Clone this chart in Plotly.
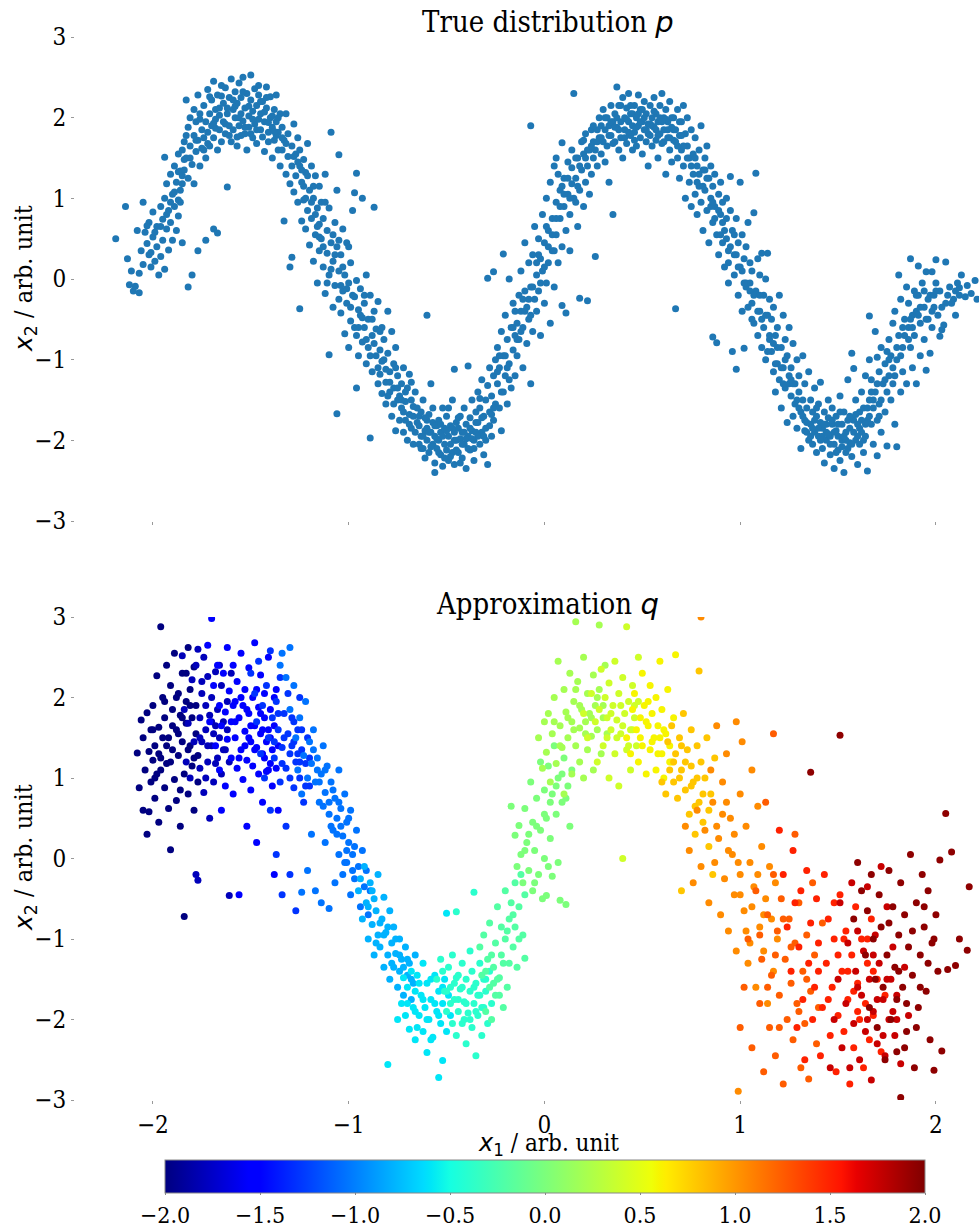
import plotly.graph_objects as go

# Samples from the true density p: (x1, x2) pairs, stored in hundredths
P_SAMPLES = [
    (-219, 50), (-214, 90), (-213, 25), (-212, -7), (-211, 10), (-210, -15), (-209, -9), (-208, 60), (-207, -17),
    (-207, 7), (-206, 35), (-205, 95), (-205, 18),
    (-204, 58), (-203, 44), (-202, 70), (-202, 30), (-201, 15), (-200, 52), (-200, 83), (-199, 22), (-198, 65),
    (-198, 40), (-197, 5), (-196, 90), (-196, 28), (-195, 74), (-195, 48), (-194, 151), (-194, 12),
    (-194, 100), (-193, 62), (-193, 118), (-192, 85), (-192, 36), (-191, 130), (-191, 70), (-190, 105), (-190, 48),
    (-189, 140), (-189, 90), (-188, 120), (-188, 60), (-187, 155), (-187, 78), (-186, 110), (-186, 134), (-186, 95),
    (-185, 160), (-185, 45), (-185, 118),
    (-184, 170), (-184, 135), (-183, 222), (-183, 150), (-182, 188), (-182, -10), (-182, 125), (-181, 165), (-181, 200),
    (-180, 142), (-180, 5), (-179, 178), (-179, 210), (-179, 118), (-178, 158), (-178, 195), (-177, 35), (-177, 172),
    (-177, 228), (-176, 140), (-176, 205), (-175, 185), (-175, 162),
    (-174, 215), (-174, 175), (-173, 48), (-173, 195), (-173, 150), (-172, 235), (-172, 182), (-171, 205), (-171, 165),
    (-170, 222), (-170, 190), (-169, 62), (-169, 245), (-169, 175), (-168, 210), (-168, 198), (-167, 57), (-167, 160),
    (-167, 228), (-166, 185), (-166, 212), (-165, 240), (-165, 170),
    (-164, 195), (-164, 218), (-163, 180), (-163, 237), (-162, 114), (-162, 205), (-161, 190), (-161, 225), (-160, 170),
    (-160, 248), (-159, 210), (-159, 185), (-158, 232), (-158, 200), (-157, 165), (-157, 218), (-156, 190), (-156, 243),
    (-155, 205), (-155, 178), (-155, 225),
    (-154, 196), (-154, 250), (-153, 212), (-153, 180), (-152, 230), (-152, 160), (-151, 202), (-151, 188), (-150, 222),
    (-150, 253), (-149, 175), (-149, 208), (-148, 192), (-148, 236), (-147, 215), (-147, 168), (-146, 198), (-146, 228),
    (-145, 185), (-145, 205),
    (-144, 176), (-144, 220), (-143, 195), (-143, 158), (-142, 212), (-142, 238), (-141, 182), (-141, 170), (-140, 200),
    (-140, 226), (-139, 150), (-139, 188), (-138, 210), (-138, 172), (-137, 195), (-137, 228), (-136, 160), (-136, 182),
    (-135, 205), (-135, 140),
    (-134, 188), (-134, 160), (-133, 72), (-133, 172), (-132, 130), (-132, 205), (-131, 152), (-131, 180), (-130, 15),
    (-130, 118), (-129, 27), (-129, 165), (-129, 140), (-128, 192), (-128, 108), (-127, 155), (-127, 128), (-126, 175),
    (-126, 95), (-125, 140), (-125, 160), (-125, -37),
    (-124, 120), (-124, 72), (-123, 148), (-123, 98), (-122, 62), (-122, 132), (-121, 168), (-121, 85), (-120, 110),
    (-120, 42), (-119, 140), (-119, 75), (-118, 22), (-118, 100), (-117, 128), (-117, 55), (-116, 88), (-116, -5),
    (-115, 115), (-115, 35), (-115, 68),
    (-114, 95), (-114, 50), (-113, 15), (-113, 75), (-112, 130), (-112, -18), (-111, 60), (-111, 32), (-110, -94),
    (-110, 88), (-110, 5), (-109, 182), (-109, 45), (-108, -35), (-108, 22), (-107, 70), (-107, -8), (-106, -167),
    (-106, 110), (-106, 40), (-105, -25), (-105, 154), (-105, 10),
    (-104, 30), (-104, -42), (-103, 62), (-103, -15), (-102, 5), (-102, -68), (-101, 45), (-101, -30), (-100, -5),
    (-100, -85), (-99, 20), (-99, -52), (-98, 85), (-98, -20), (-97, -60), (-97, 107), (-96, -135), (-96, -2),
    (-96, 131), (-95, -38), (-95, -95),
    (-94, -45), (-94, -12), (-93, -78), (-93, 100), (-92, -30), (-92, -60), (-91, -105), (-91, 5), (-90, -50),
    (-90, -85), (-89, -197), (-89, -20), (-88, -70), (-88, -115), (-87, 89), (-87, -40), (-86, -95), (-86, -62),
    (-85, -130), (-85, -28),
    (-84, -88), (-84, -118), (-83, -60), (-83, -142), (-82, -100), (-82, -75), (-81, -128), (-81, -155), (-80, -92),
    (-80, -40), (-79, -115), (-79, -140), (-78, -170), (-78, -65), (-77, -105), (-77, -135), (-76, -188), (-76, -85),
    (-75, -150), (-75, -120),
    (-74, -145), (-74, -175), (-73, -130), (-73, -160), (-72, -110), (-72, -190), (-71, -152), (-71, -175), (-70, -135),
    (-70, -200), (-69, -168), (-69, -118), (-68, -185), (-68, -150), (-67, -170), (-67, -205), (-66, -140), (-66, -190),
    (-65, -160), (-65, -178),
    (-64, -182), (-64, -205), (-63, -165), (-63, -195), (-62, -210), (-62, -150), (-61, -188), (-61, -222), (-60, -45),
    (-60, -175), (-60, -200), (-59, -168), (-59, -215), (-58, -190), (-58, -130), (-57, -205), (-57, -178), (-56, -228),
    (-56, -195), (-55, -182), (-55, -210),
    (-54, -200), (-54, -175), (-53, -218), (-53, -190), (-52, -160), (-52, -232), (-51, -205), (-51, -185), (-50, -212),
    (-50, -170), (-49, -195), (-49, -225), (-48, -182), (-48, -205), (-47, -150), (-47, -215), (-46, -112), (-46, -190),
    (-46, -230), (-45, -200), (-45, -178), (-56, -240),
    (-44, -185), (-44, -215), (-43, -198), (-43, -170), (-42, -222), (-42, -190), (-41, -160), (-41, -205), (-40, -180),
    (-40, -235), (-39, -108), (-39, -195), (-38, -212), (-38, -172), (-37, -188), (-37, -150), (-36, -225), (-36, -200),
    (-35, -165), (-35, -190),
    (-34, -178), (-34, -140), (-33, -205), (-33, -160), (-32, -190), (-32, -125), (-31, -170), (-31, -218), (-30, -150),
    (-30, -185), (-29, -132), (-29, 1), (-29, -230), (-28, -165), (-28, -110), (-27, -195), (-27, -145), (-26, -120),
    (-26, 9), (-26, -175), (-25, -100), (-25, -155),
    (-24, -130), (-24, -85), (-23, -160), (-23, -110), (-22, -65), (-22, -188), (-21, 31), (-21, -140), (-21, -95),
    (-20, -120), (-20, -45), (-19, -75), (-19, -155), (-18, 0), (-18, -105), (-17, -60), (-17, -135), (-16, -88),
    (-16, -30), (-15, -120), (-15, -70),
    (-14, -55), (-14, -95), (-13, -20), (-13, -75), (-12, -40), (-12, 10), (-11, -110), (-11, -60), (-10, -15),
    (-10, 45), (-9, -35), (-9, -80), (-8, 20), (-8, -50), (-7, 190), (-7, -10), (-7, -130), (-6, -65), (-6, 30),
    (-5, -25), (-5, 65),
    (-4, 5), (-4, -40), (-3, 50), (-3, -15), (-2, 25), (-2, -70), (-1, 80), (-1, 10), (0, -30), (0, 45), (1, -5),
    (1, 100), (2, 60), (2, 20), (3, -55), (3, 120), (4, 35), (4, 75), (5, -10), (5, 140),
    (6, 150), (6, 55), (6, 95), (7, 20), (7, 130), (8, 75), (8, 110), (9, 169), (9, 40), (9, -33), (10, 90), (10, 125),
    (11, 60), (11, -42), (12, 105), (12, 145), (13, 80), (13, 35), (14, 160), (14, 118), (15, 230), (15, 100),
    (16, 125), (16, 95), (17, 150), (17, 65), (18, 110), (18, -24), (19, 170), (19, 135), (20, 90), (20, 155),
    (21, 120), (21, 180), (22, -27), (22, 140), (23, 160), (23, 105), (24, 185), (24, 130), (25, 150), (25, 170),
    (26, 28),
    (26, 160), (27, 185), (27, 140), (28, 175), (28, 200), (29, 155), (29, 190), (30, 170), (30, 210), (31, 145),
    (31, 185), (32, 200), (32, 165), (33, 120), (33, 190), (34, 215), (34, 178), (35, 80), (35, 195),
    (36, 170), (36, 205), (37, 238), (37, 188), (38, 160), (38, 215), (39, 195), (39, 175), (40, 225), (40, 150),
    (41, 200), (41, 185), (42, 212), (42, 168), (43, 195), (43, 230), (44, 178), (44, 205), (45, 160), (45, 190),
    (46, 215), (46, 182), (47, 200), (47, 165), (48, 228), (48, 190), (49, 175), (49, 210), (50, 195), (50, 155),
    (51, 220), (51, 185), (52, 170), (52, 205), (53, 192), (53, 140), (54, 215), (54, 178), (55, 200), (55, 165),
    (56, 188), (56, 225), (57, 172), (57, 205), (58, 195), (58, 150), (59, 215), (59, 180), (60, 230), (60, 168),
    (61, 200), (61, 185), (62, 130), (62, 210), (63, 175), (63, 195), (64, 160), (64, 220), (65, 188), (65, 145),
    (66, 200), (66, 172), (67, -37), (67, 185), (68, 150), (68, 210), (69, 178), (69, 125), (70, 195), (70, 160),
    (71, 215), (71, 140), (72, 180), (72, 100), (73, 165), (73, 200), (74, 120), (74, 150), (75, 185), (75, 90),
    (76, 155), (76, 130), (77, 175), (77, 105), (78, 140), (78, 80), (79, 160), (79, 115), (80, 190), (80, 95),
    (81, 135), (81, 60), (82, 150), (82, 110), (83, 85), (83, 165), (84, 125), (84, 45), (85, 100), (85, 140),
    (86, -72), (86, 115), (86, 70), (87, 90), (87, 130), (88, -79), (88, 55), (89, 105), (89, 30), (90, 80),
    (90, 120), (91, 45), (91, 95), (92, 60), (92, 15), (93, 100), (93, 75), (94, 35), (94, -5), (95, 85), (95, 127),
    (96, -90), (96, 60), (97, 30), (97, 5), (98, -112), (98, 75), (99, 45), (99, -20), (100, 120), (100, 15),
    (101, -40), (101, 55), (102, -86), (102, 25), (103, -10), (103, 40), (104, -35), (104, 70), (105, -5), (105, 20),
    (106, -30), (106, 10), (107, 82), (107, -55), (108, 131), (108, -15), (109, -70), (109, 25), (110, -40), (110, 5),
    (111, 32), (111, -85), (112, -20), (112, -60), (113, -100), (113, 0), (114, -45), (114, 32), (115, -75),
    (115, -25),
    (116, -50), (116, -90), (117, -115), (117, -35), (118, -70), (118, -140), (119, -60), (119, -105), (120, -20),
    (120, -125), (121, -85), (121, -160), (122, -45), (122, -110), (123, -135), (123, -75), (124, -178), (124, -95),
    (125, -120), (125, -60),
    (126, -110), (126, -145), (127, -80), (127, -170), (128, -130), (128, -155), (129, -100), (129, -185), (130, -140),
    (130, -120), (131, -165), (131, -210), (132, -150), (132, -95), (133, -175), (133, -130), (134, -190), (134, -160),
    (135, -115), (135, -200),
    (136, -180), (136, -150), (137, -205), (137, -165), (138, -135), (138, -190), (139, -170), (139, -215), (140, -155),
    (140, -195), (141, -178), (141, -128), (142, -210), (142, -185), (143, -165), (143, -228), (144, -190), (144, -200),
    (145, -172), (145, -150),
    (146, -195), (146, -218), (147, -180), (147, -160), (148, -205), (148, -235), (149, -188), (149, -170), (150, -212),
    (150, -195), (151, -145), (151, -225), (152, -180), (152, -200), (153, -240), (153, -165), (154, -190), (154, -215),
    (155, -175), (155, -125), (156, -203),
    (156, -185), (157, -92), (157, -220), (158, -111), (158, -175), (159, -200), (159, -150), (160, -230), (160, -180),
    (161, -165), (161, -205), (162, -140), (162, -190), (163, -215), (163, -160), (164, -120), (164, -195), (165, -175),
    (165, -238),
    (166, -46), (166, -100), (166, -150), (167, -180), (167, -125), (168, -160), (168, -205), (169, -65), (169, -140),
    (170, -97), (170, -175), (170, -219), (171, -115), (171, -155), (172, -190), (172, -85), (173, -130), (174, -165),
    (174, -105), (175, -207), (175, -140),
    (176, -120), (176, -75), (177, -150), (177, -95), (178, -55), (178, -130), (179, -180), (179, -40), (180, -208),
    (180, -100), (181, 5), (181, -70), (182, -140), (182, -25), (183, -85), (183, -115), (184, -50), (185, -10),
    (185, -130),
    (186, -60), (186, -30), (187, 25), (187, -85), (188, -45), (188, -110), (189, -15), (189, -70), (190, -130),
    (190, -40), (191, 16), (191, -20), (192, -95), (192, -55), (193, -5), (194, -75), (194, -35), (195, 9), (195, -113),
    (196, -50), (197, -92), (197, -20), (198, 9), (198, -60), (199, -35), (200, 24), (200, -5), (201, -45), (202, -71),
    (202, -15), (203, -63), (204, -57), (205, 21), (205, -30),
    (207, -10), (209, -25), (210, -15), (210, -45), (211, -5), (212, -11), (212, -20), (213, 5), (215, -22), (216, -8),
    (218, -18), (220, -2), (221, -25),
    # second pass over the denser parts of the band
    (-176, 198), (-172, 168), (-168, 187), (-166, 203), (-163, 192), (-161, 178), (-158, 214), (-156, 200),
    (-153, 188), (-151, 214), (-149, 198), (-147, 185), (-145, 220), (-143, 207), (-141, 194), (-139, 202),
    (-137, 178), (-134, 175), (-132, 168), (-128, 152), (-124, 135), (-171, 226), (-165, 227), (-159, 222),
    (-154, 232), (-146, 240), (-142, 225), (-138, 183), (-136, 200), (-150, 180), (-157, 176), (-162, 212),
    (-169, 193), (-174, 160), (-178, 172), (-181, 150), (-184, 148), (-187, 133), (-189, 108), (-191, 95),
    (-193, 80), (-196, 65), (-199, 58), (-201, 33), (-203, 66), (-187, 98), (-185, 128), (-183, 178),
    (-126, 145), (-123, 115), (-121, 128), (-119, 95), (-117, 80), (-115, 52), (-113, 40), (-111, -5), (-109, 12),
    (-107, 30), (-105, 48), (-103, 15), (-101, -12), (-99, -35), (-97, -22), (-95, -60), (-93, -48), (-91, -75),
    (-89, -95), (-87, -80), (-85, -110), (-83, -102), (-81, -112), (-79, -128), (-77, -155), (-75, -135),
    (-73, -150), (-71, -140), (-69, -180), (-67, -158), (-122, 100), (-118, 115), (-116, 65), (-112, 95),
    (-108, 55), (-104, -8), (-100, 40), (-96, -70), (-92, -20), (-88, -50), (-84, -65), (-80, -145), (-76, -110),
    (-72, -165), (-68, -128),
    (-64, -170), (-62, -195), (-60, -185), (-58, -208), (-56, -182), (-54, -215), (-52, -195), (-50, -188),
    (-48, -220), (-46, -200), (-44, -172), (-42, -205), (-40, -198), (-38, -185), (-36, -210), (-34, -195),
    (-32, -172), (-30, -200), (-28, -182), (-26, -160), (-63, -210), (-59, -190), (-55, -198), (-51, -222),
    (-47, -185), (-43, -228), (-39, -210), (-35, -178), (-31, -195), (-27, -168), (-57, -160), (-49, -160),
    (-41, -190), (-33, -148), (-53, -180), (-45, -212), (-37, -198), (-61, -172),
    (-24, -115), (-22, -140), (-20, -95), (-18, -125), (-16, -60), (-14, -75), (-12, -65), (-10, -40), (-8, -25),
    (-6, -10), (-4, 20), (-2, -5), (0, 15), (2, 40), (4, 55), (6, 75), (8, 90), (10, 105), (12, 125), (14, 138),
    (16, 150), (18, 140), (20, 172), (22, 160), (24, 165), (-23, -95), (-19, -110), (-15, -40), (-11, -25),
    (-7, -45), (-3, 30), (1, 65), (5, 35), (9, 115), (13, 100), (17, 115), (21, 150), (25, 190),
    (27, 170), (29, 175), (31, 200), (33, 178), (35, 168), (37, 200), (39, 215), (41, 175), (43, 182), (45, 205),
    (47, 188), (49, 195), (51, 200), (53, 180), (55, 190), (57, 185), (59, 200), (61, 170), (63, 185), (65, 200),
    (67, 170), (69, 195), (71, 165), (73, 150), (34, 195), (38, 185), (42, 198), (46, 172), (50, 210), (54, 192),
    (58, 178), (62, 198), (66, 185), (70, 178), (44, 215), (52, 185), (60, 195), (68, 165), (36, 188), (48, 205),
    (56, 208), (64, 175),
    (75, 140), (77, 150), (79, 130), (81, 115), (83, 125), (85, 90), (87, 75), (89, 85), (91, 70), (93, 50),
    (95, 40), (97, 55), (99, 15), (101, 10), (103, -5), (105, -15), (107, -20), (109, -40), (111, -50), (113, -45),
    (115, -70), (117, -80), (119, -85), (121, -110), (123, -100), (125, -130), (127, -130), (129, -150), (78, 120),
    (82, 135), (86, 95), (90, 55), (94, 20), (98, 30), (102, -5), (106, -50), (110, -20), (114, -90), (118, -105),
    (122, -130), (126, -125), (130, -160),
    (132, -170), (134, -178), (136, -195), (138, -175), (140, -185), (142, -195), (144, -180), (146, -205),
    (148, -190), (150, -180), (152, -208), (154, -200), (156, -170), (158, -190), (160, -195), (162, -175),
    (164, -180), (166, -170), (133, -188), (137, -185), (141, -200), (145, -192), (149, -215), (153, -195),
    (157, -205), (161, -185), (165, -160), (139, -160), (147, -175), (155, -210), (163, -200), (143, -180),
    (151, -165), (159, -168),
    (168, -150), (170, -130), (172, -150), (174, -125), (176, -100), (178, -110), (180, -85), (182, -95), (184, -70),
    (186, -75), (188, -60), (190, -20), (192, -35), (194, -15), (196, -25), (198, -40), (200, -15), (167, -140),
    (171, -170), (175, -90), (179, -120), (183, -60), (187, -50), (191, -45), (195, -50), (199, -20), (203, -35),
    (206, -20), (208, -30),
]

# Samples from the approximation q, grouped by latent value (colour), (x1, x2) in hundredths
Q_GROUPS = [
    (-2.0, [(-208, 131), (-207, 88), (-206, 172), (-205, 150), (-205, 60), (-204, 110), (-203, 181), (-203, 30),
            (-202, 58), (-202, 133), (-201, 95), (-201, 160), (-200, 190), (-200, 122), (-199, 75), (-199, 140),
            (-198, 227), (-198, 105), (-197, 163), (-197, 45), (-196, 288), (-196, 125), (-195, 200), (-195, 150),
            (-194, 88), (-194, 175), (-193, 240), (-193, 118), (-192, 62), (-192, 150), (-191, 11), (-191, 215),
            (-190, 135), (-190, 185), (-189, 98), (-189, 255), (-188, 160), (-188, 72), (-187, 205), (-187, 128),
            (-186, 178), (-186, 40), (-185, 230), (-185, 145), (-184, 105), (-184, -72), (-183, 195), (-183, 168),
            (-182, 80), (-182, 262), (-181, 140), (-181, 210), (-180, 115), (-180, 175), (-179, 238), (-179, 60),
            (-178, 155), (-178, 190), (-177, 128), (-177, 95),
            (-200, 160), (-196, 110), (-193, 140), (-190, 165), (-188, 200), (-185, 175), (-182, 135), (-179, 125),
            (-199, 100), (-194, 195), (-186, 85), (-183, 230), (-191, 120), (-197, 130), (-187, 155), (-181, 190)]),
    (-1.8, [(-185, 252), (-184, 185), (-183, 120), (-182, 168), (-181, 100), (-180, 222), (-179, 145), (-178, -20),
            (-177, -27), (-177, 260), (-176, 175), (-176, 112), (-175, 205), (-175, 145), (-174, 82), (-174, 250),
            (-173, 190), (-173, 160), (-172, 120), (-172, 226), (-171, 178), (-171, 50), (-170, 140), (-170, 200),
            (-169, 95), (-168, 165), (-168, 232), (-167, 125), (-167, 185), (-166, 150), (-165, 215), (-165, 105),
            (-164, 170), (-163, 135), (-162, 195), (-161, -46), (-161, 120),
            (-178, 240), (-176, 150), (-173, 100), (-170, 170), (-168, 118), (-166, 240), (-164, 135), (-172, 140),
            (-175, 220), (-169, 155), (-162, 160), (-160, 230)]),
    (-1.55, [(-172, 265), (-171, 170), (-170, 298), (-169, 215), (-168, 140), (-167, 240), (-166, 110), (-166, 190),
             (-165, 60), (-165, 165), (-164, 230), (-163, 90), (-163, 182), (-162, 148), (-162, 262), (-161, 208),
             (-160, 125), (-160, 170), (-159, 80), (-159, 240), (-158, 195), (-158, 150), (-157, 112), (-157, 220),
             (-156, 175), (-156, -45), (-155, 135), (-155, 255), (-154, 98), (-154, 190), (-153, 158), (-153, 210),
             (-152, 122), (-152, 40), (-151, 180), (-151, 237), (-150, 145), (-150, 85), (-149, 200), (-149, 115),
             (-148, 165), (-148, 268), (-147, 138), (-147, 20), (-146, 188), (-146, 105), (-145, 155), (-145, 228),
             (-144, 130), (-144, 70), (-143, 175), (-143, 205), (-142, 145), (-142, 108), (-141, 250), (-141, 160),
             (-140, 118), (-140, 185), (-139, 90), (-139, 135), (-138, 165), (-138, -20), (-137, 210), (-137, 112),
             (-136, 140), (-136, 60),
             (-158, 170), (-155, 200), (-152, 185), (-150, 165), (-148, 135), (-145, 180), (-143, 125), (-140, 150),
             (-138, 200), (-156, 125), (-153, 140), (-147, 210), (-144, 160), (-141, 110), (-159, 190), (-151, 150)]),
    (-1.3, [(-150, 230), (-148, 205), (-147, 170), (-146, 245), (-145, 130), (-144, 190), (-143, 100), (-142, 215),
            (-141, 150), (-140, 60), (-140, 258), (-139, 175), (-138, 125), (-137, 5), (-137, 195), (-136, 160),
            (-135, 95), (-135, 225), (-134, 138), (-134, -45), (-133, 180), (-132, 112), (-132, 40), (-131, 155),
            (-131, 205), (-130, 130), (-130, -20), (-129, 175), (-128, 88), (-128, 145), (-127, 120), (-127, -65),
            (-126, 160), (-125, 100), (-125, 200), (-124, 135), (-123, 70), (-122, 118), (-121, 150), (-120, 90),
            (-136, 180), (-133, 150), (-130, 100), (-128, 170), (-126, 130), (-124, 160), (-122, 90), (-120, 125),
            (-138, 145), (-134, 118), (-129, 140), (-125, 120)]),
    (-1.05, [(-135, 240), (-134, 255), (-132, 225), (-130, 262), (-130, 185), (-128, 215), (-127, 150), (-126, 110),
             (-125, 175), (-124, -42), (-124, 80), (-123, 128), (-122, 195), (-121, -15), (-121, 100), (-120, 145),
             (-119, 118), (-119, 30), (-118, 160), (-117, 95), (-117, -40), (-116, 125), (-115, 70), (-114, 105),
             (-114, -55), (-113, 140), (-112, 82), (-112, 20), (-111, 115), (-110, 55), (-110, -62), (-109, 95),
             (-108, 35), (-107, 75), (-107, -30), (-106, 50), (-105, 110), (-105, 5), (-104, 62), (-103, -20),
             (-103, 28), (-102, 80), (-101, -5), (-101, 45), (-100, 20), (-99, -45), (-99, 60), (-98, 5), (-97, -25),
             (-96, 35), (-95, -10), (-94, -60), (-93, 10), (-92, -35), (-91, -15), (-90, -70), (-89, -40),
             (-118, 135), (-115, 95), (-112, 110), (-110, 70), (-108, 85), (-106, 30), (-104, 40), (-102, -5),
             (-100, 50), (-98, -15), (-116, 110), (-113, 65), (-109, 40), (-105, 70), (-101, 10), (-97, 15)]),
    (-0.8, [(-95, -40), (-94, -25), (-93, -75), (-92, -10), (-91, -55), (-90, -100), (-89, -30), (-88, -82),
            (-87, -50), (-87, -120), (-86, -65), (-85, -95), (-85, -20), (-84, -110), (-83, -75), (-82, -135),
            (-82, -48), (-81, -92), (-80, -120), (-79, -65), (-79, -150), (-78, -105), (-77, -85), (-77, -135),
            (-76, -118), (-75, -160), (-74, -100), (-74, -140), (-73, -125), (-72, -170), (-71, -110), (-70, -145),
            (-69, -130), (-68, -175), (-67, -155), (-66, -120),
            (-90, -60), (-88, -40), (-86, -105), (-84, -80), (-82, -95), (-80, -85), (-78, -130), (-76, -100),
            (-74, -120), (-72, -135), (-70, -125), (-68, -150)]),
    (-0.6, [(-80, -256), (-75, -200), (-73, -180), (-72, -148), (-71, -195), (-70, -160), (-69, -212), (-68, -140),
            (-67, -185), (-66, -165), (-66, -225), (-65, -145), (-64, -195), (-63, -170), (-62, -215), (-62, -130),
            (-61, -185), (-60, -241), (-60, -155), (-59, -200), (-58, -175), (-57, -222), (-56, -145), (-55, -190),
            (-54, -272), (-54, -165), (-53, -205), (-52, -251), (-52, -180), (-51, -150), (-50, -215), (-50, -68),
            (-49, -170), (-48, -195),
            (-70, -180), (-66, -190), (-64, -155), (-62, -175), (-60, -200), (-58, -150), (-56, -180), (-54, -195),
            (-52, -160), (-65, -210), (-58, -225)]),
    (-0.4, [(-55, -150), (-53, -125), (-52, -140), (-51, -165), (-50, -190), (-49, -135), (-48, -160), (-47, -205),
            (-47, -120), (-46, -175), (-45, -148), (-45, -220), (-44, -190), (-43, -162), (-42, -130), (-42, -205),
            (-41, -178), (-40, -150), (-40, -230), (-39, -192), (-38, -165), (-38, -115), (-37, -210), (-37, -140),
            (-36, -180), (-35, -155), (-35, -245), (-34, -195), (-33, -170), (-33, -130), (-32, -220), (-31, -150),
            (-31, -185), (-30, -165), (-29, -205), (-28, -140), (-27, -180), (-36, -42), (-45, -66),
            (-50, -165), (-46, -155), (-44, -175), (-42, -160), (-40, -180), (-38, -200), (-36, -160), (-34, -170),
            (-32, -185), (-30, -150), (-48, -180), (-41, -200), (-35, -190), (-44, -145)]),
    (-0.2, [(-33, -110), (-32, -145), (-31, -95), (-30, -190), (-29, -125), (-28, -160), (-28, -80), (-27, -200),
            (-26, -135), (-25, -105), (-25, -170), (-24, -60), (-23, -148), (-22, -120), (-22, -85), (-21, -185),
            (-20, -100), (-20, -40), (-19, -160), (-18, -75), (-18, -130), (-17, -55), (-16, -110), (-15, -30),
            (-15, -85), (-14, -135), (-13, -60), (-12, -20), (-11, -95), (-10, -45), (-10, -124),
            (-30, -140), (-27, -120), (-24, -150), (-21, -130), (-19, -90), (-16, -70), (-13, -100), (-23, -170),
            (-26, -155)]),
    (0.0, [(-17, 65), (-15, 29), (-14, -10), (-13, 41), (-12, 5), (-11, -30), (-10, 62), (-9, 20), (-8, -15),
           (-7, 95), (-6, 45), (-6, -40), (-5, 10), (-4, 75), (-3, -20), (-2, 120), (-2, 35), (-1, -50), (0, 85),
           (0, 0), (1, 50), (1, -46), (2, 115), (3, 25), (4, -22), (4, 80), (5, 140), (6, 55), (7, -5), (7, 100),
           (8, -52), (9, 70), (10, 125), (11, -57), (12, 90), (13, 40), (14, 110),
           (-8, 30), (-4, 40), (0, 55), (3, 70), (6, 90), (9, 105), (-10, 10), (-5, -30), (2, -10), (11, 75)]),
    (0.2, [(-3, 150), (-1, 112), (0, 170), (1, 132), (2, 180), (3, 95), (4, 155), (5, 200), (6, 118), (7, 245),
           (8, 165), (9, 138), (10, 210), (10, 80), (11, 182), (12, 150), (13, 230), (14, 105), (14, 170), (15, 195),
           (16, 294), (16, 140), (17, 220), (18, 162), (18, 120), (19, 185), (20, 250), (20, 100), (21, 170),
           (22, 205), (22, 135), (23, 180), (24, 152), (25, 228), (25, 110), (26, 190), (27, 160), (28, 290),
           (28, 210), (29, 130), (30, 175), (31, 240), (32, 155),
           (12, 175), (15, 160), (18, 190), (21, 155), (24, 175), (27, 200), (30, 190), (8, 140), (5, 170), (16, 210)]),
    (0.4, [(20, 180), (22, 150), (24, 205), (26, 170), (27, 120), (28, 185), (29, 235), (30, 140), (31, 200),
           (32, 175), (33, 100), (33, 218), (34, 160), (35, 190), (36, 130), (36, 245), (37, 172), (38, 205),
           (38, 90), (39, 155), (40, 0), (40, 225), (41, 180), (42, 135), (42, 288), (43, 195), (44, 160), (44, 110),
           (45, 215), (46, 175), (47, 140), (48, 250), (48, 195),
           (34, 180), (37, 150), (40, 165), (43, 140), (46, 190), (39, 190), (32, 150), (45, 160)]),
    (0.6, [(42, 150), (44, 130), (45, 185), (46, 205), (47, 160), (48, 120), (49, 175), (50, 230), (50, 140),
           (51, 190), (52, 105), (53, 165), (54, 215), (54, 135), (55, 180), (56, 150), (57, 110), (57, 200),
           (58, 165), (59, 245), (60, 130), (60, 185), (61, 100), (62, 155), (63, 210), (64, 140), (65, 120),
           (66, 175), (67, 253),
           (49, 150), (52, 170), (55, 145), (58, 130), (61, 160), (64, 120), (53, 195), (59, 150)]),
    (0.8, [(60, 95), (62, 80), (63, 145), (64, 110), (65, 165), (66, 95), (67, 130), (68, 75), (69, 150), (70, -40),
           (70, 110), (71, 180), (72, 85), (73, 135), (74, 55), (75, 160), (75, 115), (76, 95), (77, 30), (78, 140),
           (79, 233), (79, 70), (80, 120), (81, 45), (82, 100), (83, 150), (84, 15), (85, 80), (86, -20), (87, 125),
           (66, 120), (69, 100), (72, 120), (75, 90), (78, 100), (81, 80), (84, 60), (70, 140), (77, 65)]),
    (1.05, [(72, 40), (74, 10), (76, -30), (78, 60), (80, 300), (80, -10), (82, 35), (84, -55), (85, 110), (86, 70),
            (87, -5), (88, 165), (89, 25), (90, -70), (91, 95), (92, -25), (93, 130), (94, -90), (95, 50), (96, 5),
            (97, -45), (98, 170), (98, -115), (99, -289), (100, 80), (100, -20), (101, 145), (102, -65), (103, 40),
            (104, -130), (105, -5), (106, 110), (107, -35), (108, -160), (109, 65), (110, -85), (111, 15),
            (112, -115), (113, -50), (114, -180), (115, -10), (116, -75), (117, -140), (118, -30), (119, -100),
            (88, 40), (91, 55), (94, 10), (97, 30), (100, -45), (103, -90), (106, -60), (109, -20), (112, -70),
            (93, 70), (99, -5), (105, -105)]),
    (1.25, [(100, -210), (102, -160), (104, -100), (106, -235), (108, -40), (110, -180), (111, -125), (112, -265),
            (113, 70), (114, -70), (115, -210), (116, -145), (117, 155), (117, -20), (118, -245), (119, -90),
            (120, -170), (121, -50), (122, -280), (123, -125), (124, -200), (125, -75), (126, -155), (127, -225),
            (128, 30), (128, -105), (129, -180), (130, -55), (131, -260), (132, -140), (133, -205), (134, -95),
            (135, -274), (136, -165), (137, -30), (138, -120), (139, -230), (140, -185), (142, -80),
            (110, -95), (114, -160), (118, -120), (122, -75), (126, -110), (130, -190), (134, -150), (120, -210)]),
    (1.5, [(120, 35), (122, -20), (124, -85), (126, -140), (127, 10), (128, -55), (129, -210), (130, -110),
           (131, -40), (132, -175), (133, -250), (134, -15), (135, -130), (136, -80), (137, -200), (138, -160),
           (139, -50), (140, -105), (141, -245), (142, -185), (143, -20), (144, -130), (145, -75), (146, -220),
           (147, -160), (148, -100), (149, -265), (150, -195), (151, -45), (152, -140), (153, -215), (154, -90),
           (155, -175), (156, -280), (157, -120), (158, -235), (159, -60), (160, -155), (161, -200), (162, -100),
           (163, -260), (164, -180), (165, -130), (166, -225), (167, -75), (168, -195), (170, -150), (172, -240),
           (174, -170),
           (140, -140), (145, -175), (150, -120), (155, -140), (160, -190), (165, -100), (148, -55), (158, -165),
           (168, -140), (153, -100)]),
    (1.75, [(146, -260), (148, -200), (150, -150), (151, -55), (152, -235), (154, -180), (155, -105), (156, -260),
            (157, -30), (158, -205), (159, -140), (160, -90), (161, -250), (162, -170), (163, -115), (164, -215),
            (165, -35), (166, -150), (167, -275), (168, -190), (169, -95), (170, -230), (171, -130), (172, -10),
            (173, -175), (174, -245), (175, -60), (176, -200), (177, -150), (178, -110), (179, -220), (180, -170),
            (182, -255), (184, -135), (186, -195),
            (160, -160), (165, -200), (170, -175), (175, -150), (180, -200), (168, -120), (173, -220), (178, -190)]),
    (1.95, [(151, 153), (136, 107), (158, -75), (160, -5), (162, -40), (164, -120), (165, -65), (166, -185),
            (167, -20), (168, -100), (169, -150), (170, -210), (171, -45), (172, -85), (173, -160), (174, -250),
            (175, -120), (176, -15), (177, -200), (178, -60), (179, -135), (180, -175), (180, -240), (181, -95),
            (182, -30), (183, -160), (184, -70), (185, -215), (186, -110), (187, 5), (188, -145), (189, -260),
            (190, -55), (191, -185), (192, -120), (193, -20), (194, -85), (195, -165), (196, -40), (197, -225),
            (198, -105), (199, -263), (200, -70), (201, -140), (202, -2), (203, -239), (205, 56), (206, -138),
            (208, 8), (210, -133), (212, -100), (216, -114), (217, -35), (182, -297),
            (176, -80), (181, -140), (185, -180), (188, -90), (192, -160), (196, -130), (199, -100), (190, -210),
            (184, -235), (194, -60)]),
]

X_TICKS = [-2, -1, 0, 1, 2]
Y_TICKS = [-3, -2, -1, 0, 1, 2, 3]
CBAR_TICKS = [-2.0, -1.5, -1.0, -0.5, 0.0, 0.5, 1.0, 1.5, 2.0]

# matplotlib-style "jet" colour map
JET = [
    [0.0, "rgb(0,0,128)"], [0.11, "rgb(0,0,255)"], [0.125, "rgb(0,0,255)"], [0.34, "rgb(0,219,255)"],
    [0.35, "rgb(0,230,247)"], [0.375, "rgb(21,255,226)"], [0.64, "rgb(239,255,8)"], [0.65, "rgb(247,245,0)"],
    [0.66, "rgb(255,236,0)"], [0.89, "rgb(255,19,0)"], [0.91, "rgb(232,0,0)"], [1.0, "rgb(128,0,0)"],
]

SERIF = "DejaVu Serif Condensed, DejaVu Serif, serif"
MATH = "DejaVu Sans"
TICK_SIZE = 24

px_ = [p[0] / 100 for p in P_SAMPLES]
py_ = [p[1] / 100 for p in P_SAMPLES]

qx, qy, qc = [], [], []
for level, pts in Q_GROUPS:
    for a, b in pts:
        qx.append(a / 100)
        qy.append(b / 100)
        qc.append(level)

fig = go.Figure()
fig.add_trace(go.Scatter(
    x=px_, y=py_, mode="markers", xaxis="x", yaxis="y",
    marker=dict(size=7, color="#1f77b4", line=dict(width=0)), showlegend=False,
))
fig.add_trace(go.Scatter(
    x=qx, y=qy, mode="markers", xaxis="x2", yaxis="y2",
    marker=dict(
        size=7, color=qc, colorscale=JET, cmin=-2, cmax=2, line=dict(width=0),
        colorbar=dict(
            orientation="h", lenmode="pixels", len=760, thicknessmode="pixels", thickness=33,
            x=545 / 979, xanchor="center", y=1 - 1160 / 1232, yanchor="top",
            xpad=0, ypad=0, outlinecolor="#888888", outlinewidth=1,
            tickvals=CBAR_TICKS, tickformat=".1f", ticks="outside", ticklen=2, tickcolor="#888888",
            ticklabelposition="outside bottom",
            tickfont=dict(family=SERIF, size=23, color="#000000"),
        ),
    ),
    showlegend=False,
))

x_range = [-2.398, 2.220]
common_x = dict(range=x_range, domain=[75 / 979, 1.0], tickvals=X_TICKS, ticks="outside", ticklen=3,
                tickcolor="#999999", showgrid=False, zeroline=False, showline=False,
                tickfont=dict(family=SERIF, size=TICK_SIZE, color="#000000"))
common_y = dict(range=[-3, 3], tickvals=Y_TICKS, ticks="outside", ticklen=3, tickcolor="#999999",
                showgrid=False, zeroline=False, showline=False,
                tickfont=dict(family=SERIF, size=TICK_SIZE, color="#000000"))

fig.update_layout(
    width=979, height=1232, margin=dict(l=0, r=0, t=0, b=0, autoexpand=False),
    paper_bgcolor="white", plot_bgcolor="white",
    xaxis=dict(**common_x, anchor="y", showticklabels=False),
    yaxis=dict(**common_y, anchor="x", domain=[1 - 521 / 1232, 1 - 37 / 1232]),
    xaxis2=dict(**common_x, anchor="y2", showticklabels=True),
    yaxis2=dict(**common_y, anchor="x2", domain=[1 - 1100 / 1232, 1 - 617 / 1232]),
)

ylab = f'<span style="font-family:{MATH}"><i>x</i><sub>2</sub></span> / arb. unit'
xlab = f'<span style="font-family:{MATH}"><i>x</i><sub>1</sub></span> / arb. unit'
annotations = [
    dict(text=f'True distribution <span style="font-family:{MATH}"><i>p</i></span>',
         x=548 / 979, y=1 - 22 / 1232, font=dict(size=29)),
    dict(text=f'Approximation <span style="font-family:{MATH}"><i>q</i></span>',
         x=547 / 979, y=1 - 604 / 1232, font=dict(size=29)),
    dict(text=xlab, x=548 / 979, y=1 - 1144 / 1232, font=dict(size=24)),
    dict(text=ylab, x=25 / 979, y=1 - 279 / 1232, textangle=-90, font=dict(size=25)),
    dict(text=ylab, x=25 / 979, y=1 - 858 / 1232, textangle=-90, font=dict(size=25)),
]
for a in annotations:
    a.update(xref="paper", yref="paper", showarrow=False, xanchor="center", yanchor="middle")
    a["font"].update(family=SERIF, color="#000000")
fig.update_layout(annotations=annotations)

fig.write_html("out.html")
